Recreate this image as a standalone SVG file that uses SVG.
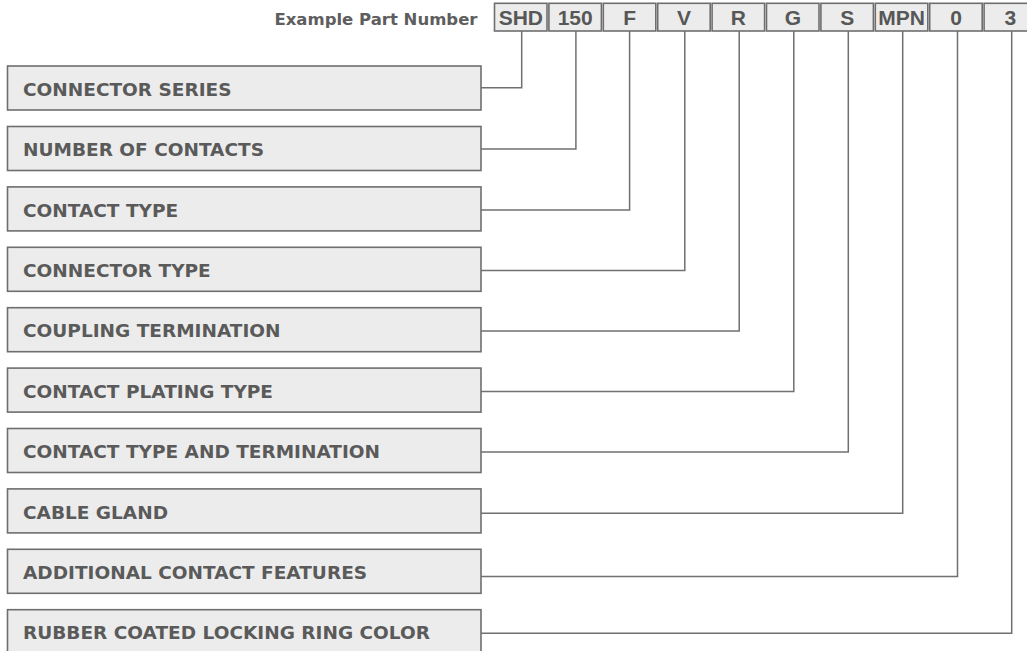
<svg xmlns="http://www.w3.org/2000/svg" width="1027" height="651" viewBox="0 0 1027 651">
<style>
.box{fill:#ececec;stroke:#6e6e6e;stroke-width:1.6}
.lbl{font-family:"DejaVu Sans",Verdana,sans-serif;font-weight:bold;font-size:18.5px;fill:#5a5a5a}
.title{font-family:"DejaVu Sans",Verdana,sans-serif;font-weight:bold;font-size:16.5px;fill:#5e5e5e;text-anchor:end}
.code{font-family:"Liberation Sans",Arial,sans-serif;font-weight:bold;font-size:21px;fill:#575757;text-anchor:middle}
.conn{fill:none;stroke:#707070;stroke-width:1.5}
</style>
<rect width="1027" height="651" fill="#ffffff"/>
<text class="title" x="477.5" y="24.5">Example Part Number</text>
<g id="codes">
<g id="code-shd"><rect class="box" x="494.5" y="3.3" width="52.5" height="27.7"/><text class="code" x="520.8" y="24.5">SHD</text></g>
<g id="code-150"><rect class="box" x="548.9" y="3.3" width="52.5" height="27.7"/><text class="code" x="575.2" y="24.5">150</text></g>
<g id="code-f"><rect class="box" x="603.3" y="3.3" width="52.5" height="27.7"/><text class="code" x="629.6" y="24.5">F</text></g>
<g id="code-v"><rect class="box" x="657.7" y="3.3" width="52.5" height="27.7"/><text class="code" x="684" y="24.5">V</text></g>
<g id="code-r"><rect class="box" x="712.1" y="3.3" width="52.5" height="27.7"/><text class="code" x="738.4" y="24.5">R</text></g>
<g id="code-g"><rect class="box" x="766.5" y="3.3" width="52.5" height="27.7"/><text class="code" x="792.8" y="24.5">G</text></g>
<g id="code-s"><rect class="box" x="820.9" y="3.3" width="52.5" height="27.7"/><text class="code" x="847.2" y="24.5">S</text></g>
<g id="code-mpn"><rect class="box" x="875.3" y="3.3" width="52.5" height="27.7"/><text class="code" x="901.6" y="24.5">MPN</text></g>
<g id="code-0"><rect class="box" x="929.7" y="3.3" width="52.5" height="27.7"/><text class="code" x="956" y="24.5">0</text></g>
<g id="code-3"><rect class="box" x="984.1" y="3.3" width="52.5" height="27.7"/><text class="code" x="1010.4" y="24.5">3</text></g>
</g>
<g id="connectors">
<polyline class="conn" points="481,87.7 521.7,87.7 521.7,31"/>
<polyline class="conn" points="481,149 575.9,149 575.9,31"/>
<polyline class="conn" points="481,210 629.6,210 629.6,31"/>
<polyline class="conn" points="481,270.5 684.8,270.5 684.8,31"/>
<polyline class="conn" points="481,331 739.2,331 739.2,31"/>
<polyline class="conn" points="481,391.5 793.8,391.5 793.8,31"/>
<polyline class="conn" points="481,452 848.3,452 848.3,31"/>
<polyline class="conn" points="481,513.3 902.7,513.3 902.7,31"/>
<polyline class="conn" points="481,576.5 957.5,576.5 957.5,31"/>
<polyline class="conn" points="481,633.3 1011.7,633.3 1011.7,31"/>
</g>
<g id="node-1"><rect class="box" x="7.5" y="66" width="473.5" height="44"/><text class="lbl" x="23" y="95.7">CONNECTOR SERIES</text></g>
<g id="node-2"><rect class="box" x="7.5" y="126.5" width="473.5" height="44"/><text class="lbl" x="23" y="156.2">NUMBER OF CONTACTS</text></g>
<g id="node-3"><rect class="box" x="7.5" y="186.9" width="473.5" height="44"/><text class="lbl" x="23" y="216.6">CONTACT TYPE</text></g>
<g id="node-4"><rect class="box" x="7.5" y="247.3" width="473.5" height="44"/><text class="lbl" x="23" y="277">CONNECTOR TYPE</text></g>
<g id="node-5"><rect class="box" x="7.5" y="307.7" width="473.5" height="44"/><text class="lbl" x="23" y="337.4">COUPLING TERMINATION</text></g>
<g id="node-6"><rect class="box" x="7.5" y="368.1" width="473.5" height="44"/><text class="lbl" x="23" y="397.8">CONTACT PLATING TYPE</text></g>
<g id="node-7"><rect class="box" x="7.5" y="428.5" width="473.5" height="44"/><text class="lbl" x="23" y="458.2">CONTACT TYPE AND TERMINATION</text></g>
<g id="node-8"><rect class="box" x="7.5" y="488.9" width="473.5" height="44"/><text class="lbl" x="23" y="518.6">CABLE GLAND</text></g>
<g id="node-9"><rect class="box" x="7.5" y="549.3" width="473.5" height="44"/><text class="lbl" x="23" y="579">ADDITIONAL CONTACT FEATURES</text></g>
<g id="node-10"><rect class="box" x="7.5" y="609.7" width="473.5" height="44"/><text class="lbl" x="23" y="639.4">RUBBER COATED LOCKING RING COLOR</text></g>
</svg>
